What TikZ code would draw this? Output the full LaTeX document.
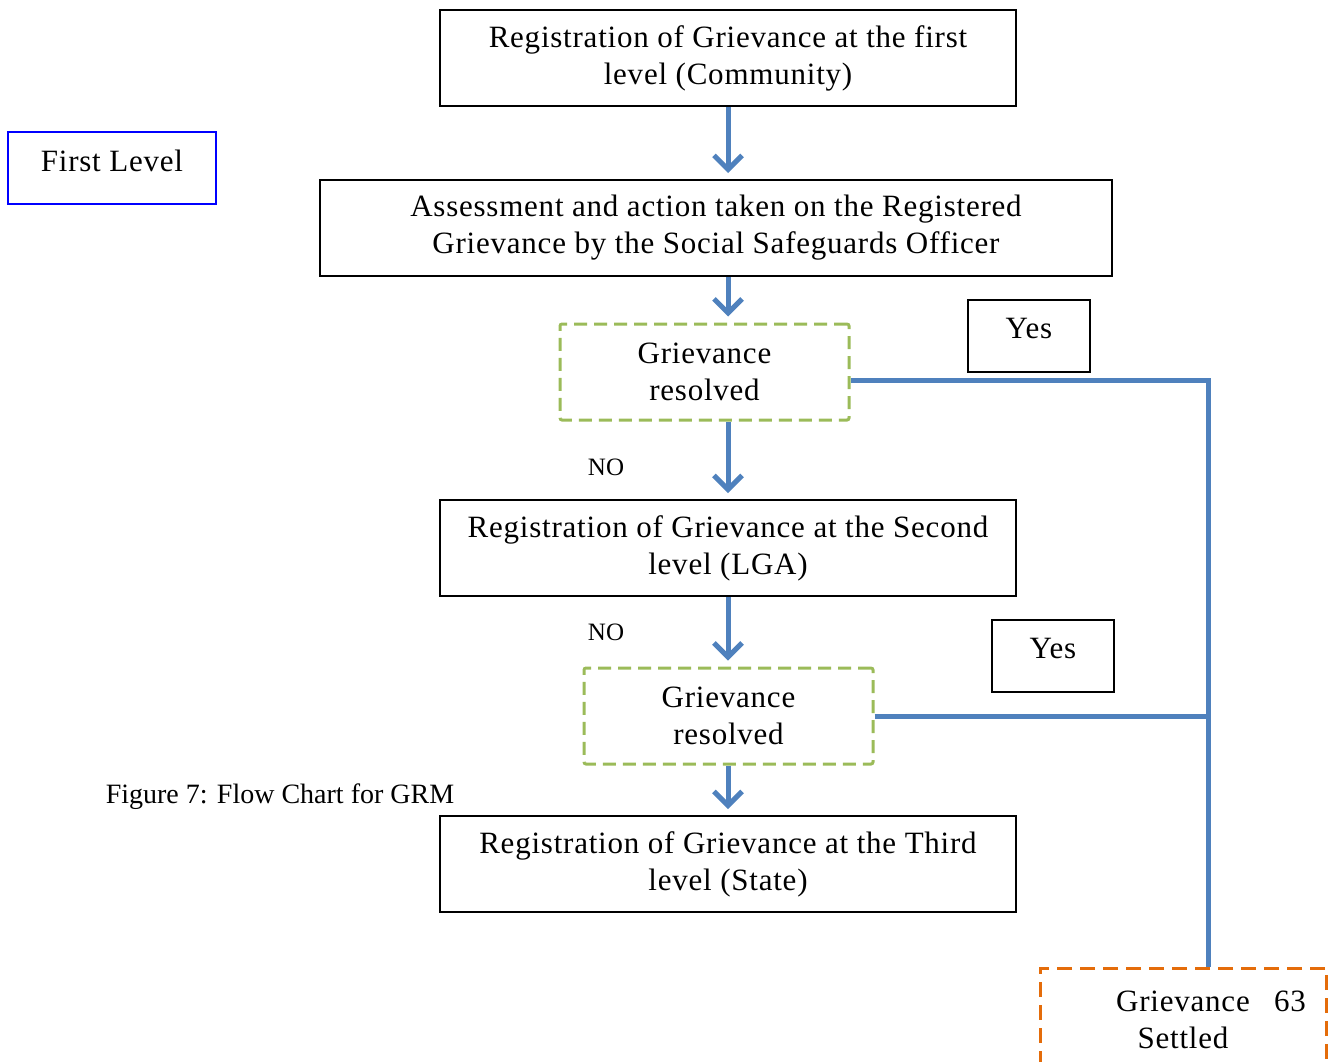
\documentclass[tikz,border=0pt]{standalone}
\usepackage{fontspec}
\setmainfont{Liberation Serif}
\newfontfamily\boxfont{Liberation Serif}[LetterSpace=2.5]
\usetikzlibrary{arrows.meta,positioning}
\definecolor{flowblue}{RGB}{79,129,189}
\definecolor{resgreen}{RGB}{155,187,89}
\definecolor{settleorange}{RGB}{228,108,10}

\begin{document}
\begin{tikzpicture}[x=1pt,y=-1pt,>={Straight Barb[length=14pt,width=28pt]}]
    % one unit = one pixel of the chart
    \tikzstyle{stepbox}=[rectangle,draw=black,line width=2pt,minimum width=576pt,
    minimum height=96pt,align=center,inner sep=0pt,font=\boxfont\fontsize{31}{37}\selectfont]
    \tikzstyle{resbox}=[rectangle,draw=resgreen,line width=3pt,dash pattern=on 13pt off 7pt,
    rounded corners=2pt,minimum width=289pt,minimum height=96pt,align=center,inner sep=0pt,
    font=\boxfont\fontsize{31}{37}\selectfont]
    \tikzstyle{yesbox}=[rectangle,draw=black,line width=1.5pt,minimum width=122pt,
    minimum height=72pt,inner sep=0pt,text depth=16pt,font=\boxfont\fontsize{31}{37}\selectfont]
    \tikzstyle{flowarrow}=[->,draw=flowblue,line width=5pt,shorten >=6pt]
    \tikzstyle{flowline}=[draw=flowblue,line width=5pt]

    \useasboundingbox (0,0) rectangle (1328,1061);
    \clip (0,0) rectangle (1328,1061);

    \node [stepbox] (reg1) at (728,58) {Registration of Grievance at the first\\level (Community)};
    \node [stepbox,minimum width=792pt] (assess) at (716,228) {Assessment and action taken on the Registered\\Grievance by the Social Safeguards Officer};
    \node [resbox] (res1) at (704.5,372) {Grievance\\resolved};
    \node [stepbox] (reg2) at (728,548) {Registration of Grievance at the Second\\level (LGA)};
    \node [resbox] (res2) at (728.5,716) {Grievance\\resolved};
    \node [stepbox] (reg3) at (728,864) {Registration of Grievance at the Third\\level (State)};

    \node [yesbox] (yes1) at (1029,336) {Yes};
    \node [yesbox] (yes2) at (1053,656) {Yes};
    \node [rectangle,draw=blue,line width=1.5pt,minimum width=208pt,minimum height=72pt,
    text depth=14pt,font=\boxfont\fontsize{31}{37}\selectfont] (firstlvl) at (112,168) {First Level};

    \node [font=\fontsize{25}{28}\selectfont] (no1) at (606,467) {NO};
    \node [font=\fontsize{25}{28}\selectfont] (no2) at (606,632) {NO};
    \node [font=\fontsize{28}{30}\selectfont] (caption) at (280,797) {Figure 7: Flow Chart for GRM};

    \node [rectangle,draw=settleorange,line width=3pt,dash pattern=on 15pt off 8pt,
    minimum width=286pt,minimum height=104pt,align=center,inner sep=0pt,
    font=\boxfont\fontsize{31}{37}\selectfont] (settled) at (1183,1020) {Grievance\\Settled};
    \node [font=\boxfont\fontsize{31}{37}\selectfont] (pagenum) at (1290,1001) {63};

    % down the chart
    \draw [flowarrow] (reg1.south) -- (reg1.south |- assess.north);
    \draw [flowarrow] (assess.south -| reg1.south) -- (res1.north -| reg1.south);
    \draw [flowarrow] (res1.south -| reg2.north) -- (reg2.north);
    \draw [flowarrow] (reg2.south) -- (res2.north -| reg2.south);
    \draw [flowarrow] (res2.south -| reg3.north) -- (reg3.north);

    % yes branches
    \coordinate (junction) at (1208,380);
    \draw [flowline] ([yshift=-8pt]res1.east) -- (junction) -- (junction |- settled.north);
    \draw [flowline] (res2.east) -- (res2.east -| junction);

\end{tikzpicture}
\end{document}
